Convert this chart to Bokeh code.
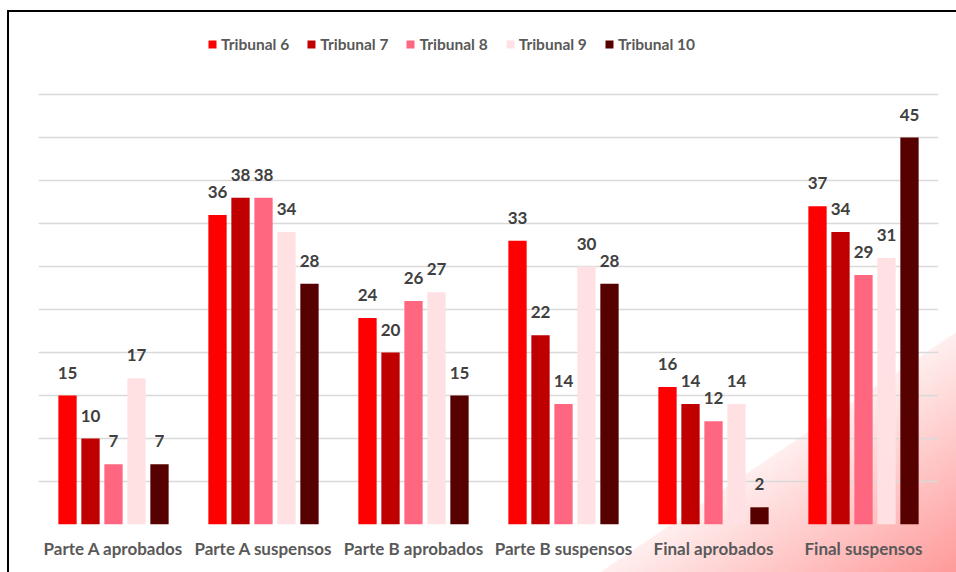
from bokeh.plotting import figure
from bokeh.models import FactorRange, Range1d, ColumnDataSource, Legend, LegendItem, FixedTicker
from bokeh.transform import dodge
from bokeh.core.properties import value
from bokeh.embed import file_html
from bokeh.resources import INLINE

categories = ["Parte A aprobados", "Parte A suspensos", "Parte B aprobados",
              "Parte B suspensos", "Final aprobados", "Final suspensos"]
series_names = ["Tribunal 6", "Tribunal 7", "Tribunal 8", "Tribunal 9", "Tribunal 10"]
tribunal_6 = [15, 36, 24, 33, 16, 37]
tribunal_7 = [10, 38, 20, 22, 14, 34]
tribunal_8 = [7, 38, 26, 14, 12, 29]
tribunal_9 = [17, 34, 27, 30, 14, 31]
tribunal_10 = [7, 28, 15, 28, 2, 45]
grid_ticks = [0, 5, 10, 15, 20, 25, 30, 35, 40, 45, 50]

series = [tribunal_6, tribunal_7, tribunal_8, tribunal_9, tribunal_10]
colors = ["#FF0000", "#C00000", "#FF6680", "#FFE1E4", "#560000"]
offsets = [-0.3066, -0.1533, 0.0, 0.1533, 0.3066]

FONT = value("Lato")

# frame spans from legend area (top) to the value 0 baseline; 430 px <-> 50 units
y_top = 50 * 504 / 430

p = figure(x_range=FactorRange(*categories), y_range=Range1d(0, y_top),
           width=956, height=572, output_backend="svg", toolbar_location=None,
           min_border_left=38, min_border_right=18, min_border_top=20, min_border_bottom=48)
p.x_range.range_padding = 0
p.background_fill_color = None
p.border_fill_color = None
p.outline_line_color = None
p.styles = {
    "background": ("linear-gradient(#000000, #000000) 7px 10px / 2px 600px no-repeat, "
                   "linear-gradient(#000000, #000000) 7px 10px / 960px 2px no-repeat, "
                   "linear-gradient(146deg, #ffffff 0%, #ffffff 80.2%, #ffeeee 80.4%, #ff9a9a 100%)"),
}

p.yaxis.visible = False
p.ygrid.ticker = FixedTicker(ticks=grid_ticks)
p.ygrid.grid_line_color = "#D9D9D9"
p.ygrid.grid_line_width = 1.5
p.xgrid.grid_line_color = None

p.xaxis.axis_line_color = None
p.xaxis.major_tick_line_color = None
p.xaxis.minor_tick_line_color = None
p.xaxis.major_tick_out = 0
p.xaxis.major_tick_in = 0
p.xaxis.major_label_standoff = 13
p.xaxis.major_label_text_font = "Lato"
p.xaxis.major_label_text_font_style = "bold"
p.xaxis.major_label_text_font_size = "17px"
p.xaxis.major_label_text_color = "#595959"

data = {"cat": categories}
for i, s in enumerate(series):
    data["s%d" % i] = s
    data["l%d" % i] = [str(v) for v in s]
source = ColumnDataSource(data)

items = []
for i in range(5):
    r = p.vbar(x=dodge("cat", offsets[i], range=p.x_range), top="s%d" % i, width=0.122,
               source=source, fill_color=colors[i], line_color=None)
    p.text(x=dodge("cat", offsets[i], range=p.x_range), y="s%d" % i, text="l%d" % i,
           source=source, text_align="center", text_baseline="alphabetic", y_offset=-23,
           text_font=FONT, text_font_style="bold", text_font_size="17px", text_color="#404040")
    items.append(LegendItem(label=series_names[i], renderers=[r]))

legend = Legend(items=items, orientation="horizontal", location=(169, 471),
                glyph_width=10, glyph_height=10, label_standoff=4, spacing=17,
                padding=0, margin=0, border_line_color=None, background_fill_alpha=0,
                label_text_font="Lato", label_text_font_style="bold",
                label_text_font_size="15.5px", label_text_color="#595959")
p.add_layout(legend, "center")

open("out.html", "w").write(file_html(p, INLINE))
